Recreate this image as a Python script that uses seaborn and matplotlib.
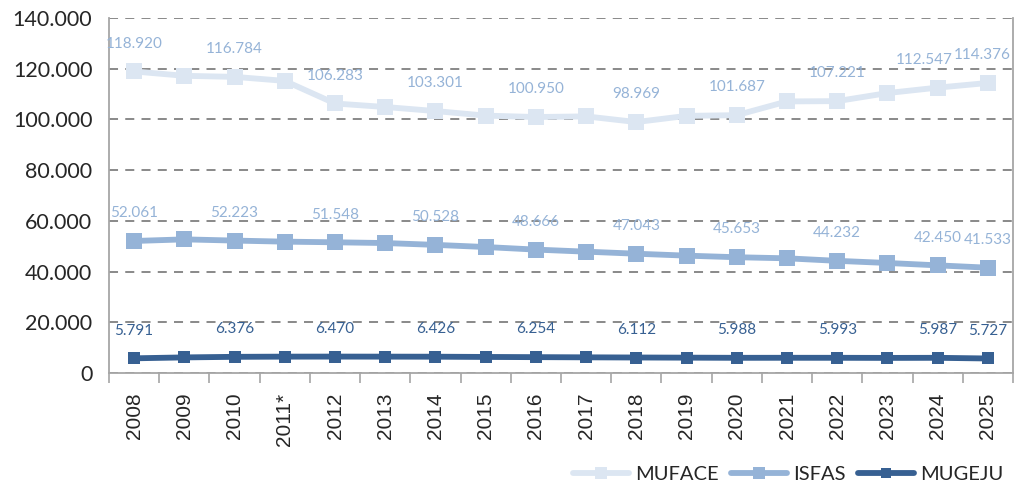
import matplotlib
matplotlib.use("Agg")
import matplotlib.pyplot as plt
import matplotlib.ticker as mticker
import pandas as pd
import seaborn as sns

years = ["2008", "2009", "2010", "2011*", "2012", "2013", "2014", "2015", "2016",
         "2017", "2018", "2019", "2020", "2021", "2022", "2023", "2024", "2025"]
muface = [118920, 117200, 116784, 115200, 106283, 104900, 103301, 101500, 100950,
          101200, 98969, 101400, 101687, 107100, 107221, 110400, 112547, 114376]
isfas = [52061, 52700, 52223, 51800, 51548, 51250, 50528, 49680, 48666,
         47850, 47043, 46280, 45653, 45230, 44232, 43390, 42450, 41533]
mugeju = [5791, 6150, 6376, 6450, 6470, 6450, 6426, 6330, 6254,
          6180, 6112, 6050, 5988, 6000, 5993, 5950, 5987, 5727]
# which points get a value label
label_idx = [0, 2, 4, 6, 8, 10, 12, 14, 16, 17]

series = {"MUFACE": muface, "ISFAS": isfas, "MUGEJU": mugeju}
colors = {"MUFACE": "#DCE6F2", "ISFAS": "#95B3D7", "MUGEJU": "#376092"}
label_colors = {"MUFACE": "#95B3D7", "ISFAS": "#95B3D7", "MUGEJU": "#376092"}
msize = {"MUFACE": 11, "ISFAS": 11, "MUGEJU": 9}

df = pd.DataFrame({"year": years * 3,
                   "value": muface + isfas + mugeju,
                   "ente": ["MUFACE"] * 18 + ["ISFAS"] * 18 + ["MUGEJU"] * 18})
df["x"] = list(range(18)) * 3

sns.set_style("white")
plt.rcParams["font.family"] = ["Lato", "DejaVu Sans"]

fig = plt.figure(figsize=(10.16, 4.82), dpi=100)
ax = fig.add_axes([109 / 1016, 109 / 482, 904 / 1016, 355 / 482])

for name, vals in series.items():
    sub = df[df["ente"] == name]
    sns.lineplot(data=sub, x="x", y="value", ax=ax, color=colors[name], lw=4.2,
                 marker="s", markersize=msize[name], markeredgewidth=0,
                 label=name, sort=False)
    for i in label_idx:
        dx = 0
        if name == "MUFACE" and i == 16:
            dx = -10
        if name == "MUFACE" and i == 17:
            dx = -4
        ax.annotate(f"{vals[i]:,}".replace(",", "."), (i, vals[i]),
                    xytext=(dx, 20), textcoords="offset points",
                    ha="center", va="center", fontsize=11,
                    color=label_colors[name])

ax.set_xlim(-0.5, 17.5)
ax.set_ylim(0, 140000)
ax.yaxis.set_major_locator(mticker.MultipleLocator(20000))
ax.yaxis.set_major_formatter(mticker.FuncFormatter(
    lambda v, p: f"{int(v):,}".replace(",", ".")))
ax.set_xticks(range(18))
ax.set_xticklabels(years, rotation=90)
for lbl in ax.get_xticklabels():
    lbl.set_fontfamily(["Liberation Sans"])
    lbl.set_fontsize(15)
ax.xaxis.set_minor_locator(mticker.FixedLocator([i + 0.5 for i in range(-1, 18)]))
ax.tick_params(axis="x", which="major", length=0, pad=14)
ax.tick_params(axis="x", which="minor", length=7, color="#A6A6A6", width=1.2,
               direction="out", bottom=True)
ax.tick_params(axis="y", length=0, labelsize=15.5, pad=12)
ax.grid(axis="y", color="#808080", ls=(0, (5, 4)), lw=1.3)
ax.set_axisbelow(True)
ax.set_xlabel("")
ax.set_ylabel("")
for s in ["left", "bottom", "right"]:
    ax.spines[s].set_visible(True)
    ax.spines[s].set_color("#A6A6A6")
    ax.spines[s].set_linewidth(1.3)
ax.spines["top"].set_visible(False)

leg = ax.legend(loc="lower right", bbox_to_anchor=(1.003, -0.345), ncol=3,
                frameon=False, fontsize=14.5, handlelength=2.8,
                columnspacing=0.6, handletextpad=0.3, markerscale=0.8,
                borderaxespad=0.2)

fig.savefig("out.png", dpi=100)
